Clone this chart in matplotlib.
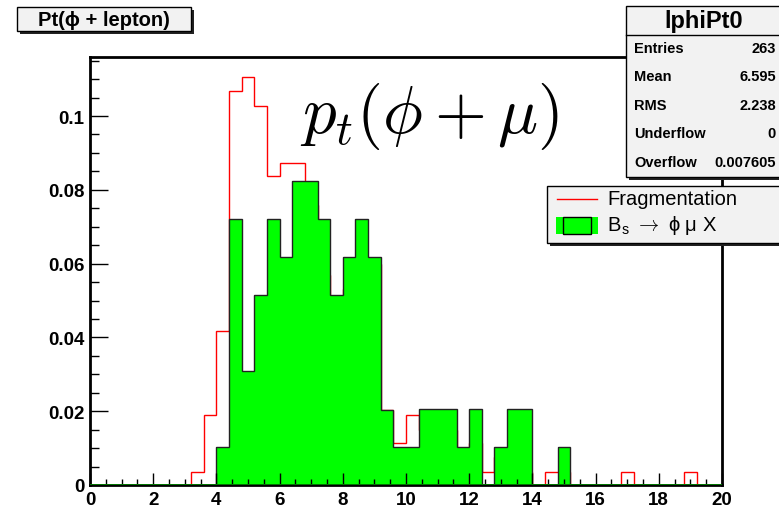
import numpy as np
import matplotlib
matplotlib.use("Agg")
import matplotlib.pyplot as plt
from matplotlib.patches import Rectangle
from matplotlib.lines import Line2D

plt.rcParams['font.family'] = ['Liberation Sans', 'DejaVu Sans']
plt.rcParams['mathtext.fontset'] = 'cm'

W, H = 779, 510

# 50 bins from 0 to 20
edges = np.linspace(0, 20, 51)

# Fragmentation (red outline)
frag = [0, 0, 0, 0, 0, 0, 0, 0, 0.0036, 0.019,
        0.0418, 0.1067, 0.1105, 0.1028, 0.0838, 0.0874, 0.0874, 0.0760, 0.0570, 0.0460,
        0.0530, 0.0570, 0.0600, 0.0204, 0.0113, 0.0190, 0.0150, 0.0113, 0.0150, 0.0075,
        0.0113, 0.0036, 0.0075, 0.0075, 0.0036, 0, 0.0036, 0.0036, 0, 0,
        0, 0, 0.0036, 0, 0, 0, 0, 0.0036, 0, 0]

# Bs -> phi mu X (green filled)
bs = [0, 0, 0, 0, 0, 0, 0, 0, 0, 0,
      0.0102, 0.0721, 0.0308, 0.0516, 0.0721, 0.0619, 0.0825, 0.0825, 0.0721, 0.0516,
      0.0619, 0.0721, 0.0619, 0.0204, 0.0102, 0.0102, 0.0206, 0.0206, 0.0206, 0.0102,
      0.0206, 0, 0.0102, 0.0206, 0.0206, 0, 0, 0.0102, 0, 0,
      0, 0, 0, 0, 0, 0, 0, 0, 0, 0]

stat_names = ['Entries', 'Mean', 'RMS', 'Underflow', 'Overflow']
stat_values = ['263', '6.595', '2.238', '0', '0.007605']

GREEN = '#00ff00'
BOXFILL = '#f2f2f2'


def fx(x):
    return x / W


def fy(y):
    return 1 - y / H


def fig_box(fig, x0, y0, x1, y1, shadow=3):
    # ROOT style pave: shadow then box
    fig.add_artist(Rectangle((fx(x0 + shadow), fy(y1 + shadow)), fx(x1 - x0), (y1 - y0) / H,
                             transform=fig.transFigure, facecolor='#222222', edgecolor='none'))
    fig.add_artist(Rectangle((fx(x0), fy(y1)), fx(x1 - x0), (y1 - y0) / H,
                             transform=fig.transFigure, facecolor=BOXFILL, edgecolor='black', lw=1))


fig = plt.figure(figsize=(W / 100, H / 100), dpi=100)
ax = fig.add_axes([fx(90), fy(486), fx(722 - 90), (486 - 58) / H])

ax.stairs(frag, edges, color='red', lw=1)
ax.stairs(bs, edges, fill=True, facecolor=GREEN, edgecolor='none')
ax.stairs(bs, edges, color='#222222', lw=1)
ax.axhline(0, color='#008800', lw=1.2, zorder=3)

ax.set_xlim(0, 20)
ax.set_ylim(0, 0.116)
ax.set_xticks(np.arange(0, 21, 2))
ax.set_xticks(np.arange(0, 20.01, 0.5), minor=True)
ax.set_yticks([0, 0.02, 0.04, 0.06, 0.08, 0.1])
ax.set_yticklabels(['0', '0.02', '0.04', '0.06', '0.08', '0.1'])
ax.set_yticks(np.arange(0, 0.116, 0.005), minor=True)
ax.tick_params(axis='x', which='major', direction='in', length=8.5, width=1, pad=4)
ax.tick_params(axis='x', which='minor', direction='in', length=4.3, width=1)
ax.tick_params(axis='y', which='major', direction='in', length=13, width=1, pad=4)
ax.tick_params(axis='y', which='minor', direction='in', length=6.5, width=1)
for lab in ax.get_xticklabels() + ax.get_yticklabels():
    lab.set_fontweight('bold')
    lab.set_fontsize(13.5)
for s in ax.spines.values():
    s.set_linewidth(2)

# big formula
fig.text(fx(430), fy(117), r'$p_t(\phi+\mu)$', fontsize=48, ha='center', va='center')

# title pave
fig_box(fig, 17, 8, 191, 32)
fig.text(fx(104), fy(20.5), 'Pt(\u03d5 + lepton)', fontsize=14.5, fontweight='bold',
         ha='center', va='center')

# stats pave
fig_box(fig, 626, 7, 782, 178)
fig.add_artist(Line2D([fx(626), 1], [fy(35.5), fy(35.5)], transform=fig.transFigure,
                      color='black', lw=1))
fig.text(fx(704), fy(21.5), 'lphiPt0', fontsize=17, fontweight='bold', ha='center', va='center')
for i, (n, v) in enumerate(zip(stat_names, stat_values)):
    yy = 49 + i * 28.4
    fig.text(fx(634), fy(yy), n, fontsize=10.5, fontweight='bold', ha='left', va='center')
    fig.text(fx(776), fy(yy), v, fontsize=10.5, fontweight='bold', ha='right', va='center')

# legend pave
fig_box(fig, 547, 187, 782, 244)
fig.add_artist(Line2D([fx(557), fx(597)], [fy(200), fy(200)], transform=fig.transFigure,
                      color='red', lw=1))
fig.text(fx(607), fy(200), 'Fragmentation', fontsize=14.5, ha='left', va='center')
fig.add_artist(Rectangle((fx(556), fy(235)), fx(42), 17.5 / H, transform=fig.transFigure,
                         facecolor=GREEN, edgecolor='none'))
fig.add_artist(Rectangle((fx(563), fy(234.5)), fx(28), 16.5 / H, transform=fig.transFigure,
                         facecolor='none', edgecolor='black', lw=1))
fig.text(fx(607), fy(226), 'B$_{\\mathregular{s}}$ $\\rightarrow$ \u03d5 \u03bc X',
         fontsize=14.5, ha='left', va='center')

fig.savefig('out.png', dpi=100)
